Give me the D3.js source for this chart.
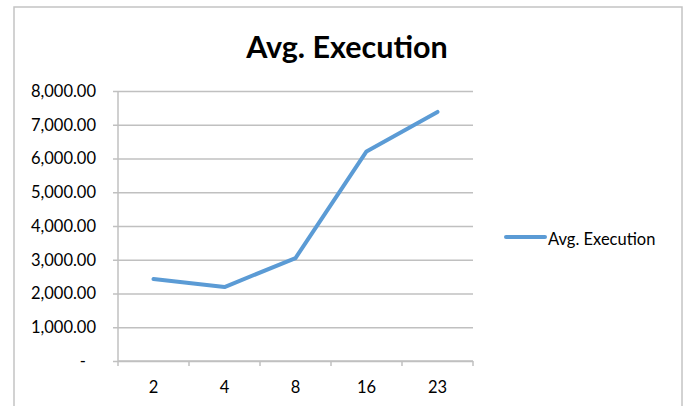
<!DOCTYPE html>
<html>
<head>
<meta charset="utf-8">
<script src="https://cdn.jsdelivr.net/npm/d3@7"></script>
<style>
  body { margin: 0; background: #fff; }
  text { font-family: Lato, "Open Sans", sans-serif; fill: #000; }
</style>
</head>
<body>
<script>
// chart data
var categories = ["2", "4", "8", "16", "23"];
var avgExecution = [2430, 2190, 3050, 6210, 7380];
var yTicks = [0, 1000, 2000, 3000, 4000, 5000, 6000, 7000, 8000];
var seriesName = "Avg. Execution";
var title = "Avg. Execution";

var width = 691, height = 406;
var plot = {left: 118, right: 473, top: 91, bottom: 361};
var blue = "#5b9bd5";

var svg = d3.select("body").append("svg")
  .attr("width", width)
  .attr("height", height);

// outer chart frame
svg.append("rect")
  .attr("x", 14).attr("y", 7)
  .attr("width", 668).attr("height", 420)
  .attr("fill", "none")
  .attr("stroke", "#c4c4c4")
  .attr("stroke-width", 1.5);

// title
svg.append("text")
  .attr("x", 347).attr("y", 58)
  .attr("text-anchor", "middle")
  .style("font-size", "30.5px")
  .style("font-weight", "bold")
  .text(title);

var x = d3.scaleBand()
  .domain(categories)
  .range([plot.left, plot.right]);

var y = d3.scaleLinear()
  .domain([0, 8000])
  .range([plot.bottom, plot.top]);

var fmt = d3.format(",.2f");

// y axis with gridlines
var yAxis = svg.append("g")
  .attr("transform", "translate(" + plot.left + ",0)")
  .call(d3.axisLeft(y)
    .tickValues(yTicks)
    .tickSize(-(plot.right - plot.left))
    .tickPadding(22)
    .tickFormat(function(d) { return d === 0 ? "-" : fmt(d); }));
yAxis.select(".domain").remove();
yAxis.selectAll(".tick line")
  .attr("x1", -5)
  .attr("stroke", "#c0c0c0")
  .attr("stroke-width", 1.5);
yAxis.selectAll(".tick text")
  .style("font-size", "16.5px");
// the "-" for zero sits further left
yAxis.selectAll(".tick text").filter(function(d) { return d === 0; })
  .attr("dx", -10);

// vertical axis line
svg.append("line")
  .attr("x1", plot.left).attr("x2", plot.left)
  .attr("y1", plot.top).attr("y2", plot.bottom)
  .attr("stroke", "#c0c0c0")
  .attr("stroke-width", 1.5);

// x axis: ticks between categories
var xAxis = svg.append("g")
  .attr("transform", "translate(0," + plot.bottom + ")");
xAxis.append("line")
  .attr("x1", plot.left).attr("x2", plot.right)
  .attr("stroke", "#c0c0c0")
  .attr("stroke-width", 1.5);
var bounds = categories.map(function(c) { return x(c); }).concat([plot.right]);
xAxis.selectAll(".xtick")
  .data(bounds)
  .enter().append("line")
  .attr("class", "xtick")
  .attr("x1", function(d) { return d; })
  .attr("x2", function(d) { return d; })
  .attr("y1", 0).attr("y2", 5)
  .attr("stroke", "#c0c0c0")
  .attr("stroke-width", 1.5);
xAxis.selectAll(".xlabel")
  .data(categories)
  .enter().append("text")
  .attr("class", "xlabel")
  .attr("x", function(d) { return x(d) + x.bandwidth() / 2; })
  .attr("y", 32)
  .attr("text-anchor", "middle")
  .style("font-size", "16.5px")
  .text(function(d) { return d; });

// the series line
var line = d3.line()
  .x(function(d, i) { return x(categories[i]) + x.bandwidth() / 2; })
  .y(function(d) { return y(d); });

svg.append("path")
  .datum(avgExecution)
  .attr("d", line)
  .attr("fill", "none")
  .attr("stroke", blue)
  .attr("stroke-width", 4)
  .attr("stroke-linejoin", "round")
  .attr("stroke-linecap", "round");

// legend
var legend = svg.append("g").attr("transform", "translate(506,237)");
legend.append("line")
  .attr("x1", 0).attr("x2", 39)
  .attr("stroke", blue)
  .attr("stroke-width", 4)
  .attr("stroke-linecap", "round");
legend.append("text")
  .attr("x", 42).attr("y", 8)
  .style("font-size", "16.5px")
  .text(seriesName);
</script>
</body>
</html>
